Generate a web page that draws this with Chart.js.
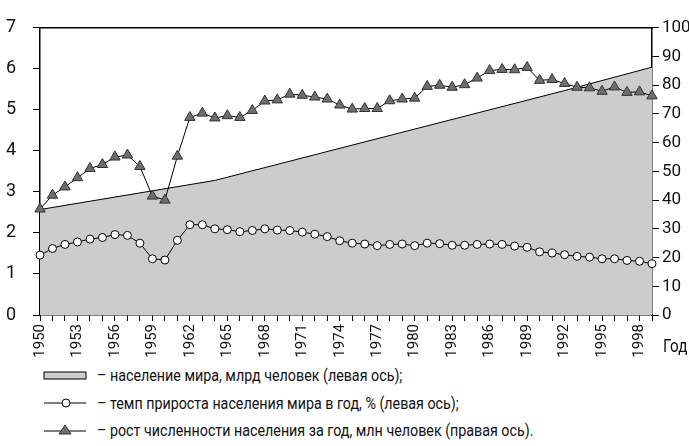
<!DOCTYPE html>
<html lang="ru">
<head>
    <meta charset="UTF-8">
    <title>Население мира</title>
    <style>
        body {
            margin: 0;
            background: #fff;
            font-family: Roboto, "Liberation Sans", sans-serif;
            color: #111;
        }
        #wrap {
            position: relative;
            width: 689px;
            height: 446px;
        }
        #box {
            position: absolute;
            left: 0;
            top: 0;
            width: 689px;
            height: 362px;
        }
        .row {
            position: absolute;
            left: 43px;
            height: 20px;
            display: flex;
            align-items: center;
            white-space: nowrap;
        }
        .row span {
            display: inline-block;
            margin-left: 8px;
            font-size: 17px;
            transform: scaleX(0.84);
            transform-origin: left center;
        }
        #god {
            position: absolute;
            left: 663px;
            top: 335px;
            font-size: 18px;
            transform: scaleX(0.85);
            transform-origin: left center;
        }
    </style>
    <script src="https://cdn.jsdelivr.net/npm/chart.js"></script>
</head>
<body>
<div id="wrap">
    <div id="box"><canvas id="chart"></canvas></div>
    <div id="god">Год</div>
    <div class="row" style="top:365px">
        <svg width="46" height="12"><rect x="1" y="3" width="42" height="7" fill="#cccccc" stroke="#000" stroke-width="1"/></svg>
        <span>– население мира, млрд человек (левая ось);</span>
    </div>
    <div class="row" style="top:393px">
        <svg width="46" height="12"><line x1="1" y1="6" x2="43" y2="6" stroke="#000" stroke-width="1"/><circle cx="23" cy="6" r="4" fill="#fff" stroke="#000" stroke-width="1"/></svg>
        <span>– темп прироста населения мира в год, % (левая ось);</span>
    </div>
    <div class="row" style="top:420px">
        <svg width="46" height="12"><line x1="1" y1="7" x2="43" y2="7" stroke="#000" stroke-width="1"/><polygon points="22,1 28,10 16,10" fill="#6e6e6e" stroke="#333" stroke-width="1"/></svg>
        <span>– рост численности населения за год, млн человек (правая ось).</span>
    </div>
</div>
<script>
    const years = [1950, 1951, 1952, 1953, 1954, 1955, 1956, 1957, 1958, 1959,
        1960, 1961, 1962, 1963, 1964, 1965, 1966, 1967, 1968, 1969,
        1970, 1971, 1972, 1973, 1974, 1975, 1976, 1977, 1978, 1979,
        1980, 1981, 1982, 1983, 1984, 1985, 1986, 1987, 1988, 1989,
        1990, 1991, 1992, 1993, 1994, 1995, 1996, 1997, 1998, 1999];

    // население мира, млрд (известно только в узловых годах)
    const population = [2.57, null, null, null, null, null, null, null, null, null,
        null, null, null, null, 3.28, null, null, null, null, null,
        null, null, null, null, null, null, null, null, null, null,
        null, null, null, null, null, null, null, null, null, null,
        null, null, 5.47, null, null, null, null, null, null, 6.04];

    // темп прироста, %
    const growthRate = [1.46, 1.62, 1.72, 1.78, 1.85, 1.89, 1.96, 1.94, 1.75, 1.37,
        1.34, 1.82, 2.20, 2.20, 2.10, 2.08, 2.03, 2.06, 2.10, 2.07,
        2.06, 2.02, 1.97, 1.91, 1.81, 1.75, 1.73, 1.69, 1.72, 1.73,
        1.69, 1.75, 1.74, 1.70, 1.70, 1.72, 1.73, 1.72, 1.68, 1.65,
        1.54, 1.51, 1.47, 1.43, 1.41, 1.37, 1.37, 1.33, 1.31, 1.25];

    // прирост численности, млн человек
    const growthMln = [36.9, 41.7, 44.6, 47.8, 51.0, 52.4, 55.0, 55.7, 51.7, 41.4,
        40.0, 55.3, 68.8, 70.3, 68.6, 69.4, 68.8, 71.2, 74.5, 74.9,
        76.9, 76.5, 75.9, 75.2, 73.1, 71.7, 71.9, 71.9, 74.6, 75.2,
        75.5, 79.6, 80.0, 79.3, 80.2, 82.5, 85.1, 85.5, 85.4, 86.2,
        81.7, 82.0, 80.6, 79.3, 79.1, 77.9, 79.4, 77.5, 77.7, 76.3];

    const tickFont = { family: 'Roboto, "Liberation Sans", sans-serif', size: 18 };

    new Chart(document.getElementById('chart'), {
        type: 'line',
        data: {
            labels: years,
            datasets: [
                {
                    label: 'население мира, млрд человек',
                    data: population,
                    yAxisID: 'y',
                    fill: 'origin',
                    spanGaps: true,
                    backgroundColor: '#cccccc',
                    borderColor: '#000',
                    borderWidth: 1,
                    pointRadius: 0,
                    tension: 0,
                    order: 3
                },
                {
                    label: 'темп прироста населения мира в год, %',
                    data: growthRate,
                    yAxisID: 'y',
                    borderColor: '#000',
                    borderWidth: 1,
                    pointStyle: 'circle',
                    pointRadius: 4,
                    pointBackgroundColor: '#fff',
                    pointBorderColor: '#000',
                    pointBorderWidth: 1,
                    clip: false,
                    order: 2
                },
                {
                    label: 'рост численности населения за год, млн человек',
                    data: growthMln,
                    yAxisID: 'y1',
                    borderColor: '#000',
                    borderWidth: 1,
                    pointStyle: 'triangle',
                    pointRadius: 6,
                    pointBackgroundColor: '#6e6e6e',
                    pointBorderColor: '#333',
                    pointBorderWidth: 1,
                    clip: false,
                    order: 1
                }
            ]
        },
        options: {
            responsive: true,
            maintainAspectRatio: false,
            animation: false,
            layout: { padding: { top: 23, left: 0, right: 0, bottom: 0 } },
            plugins: {
                legend: { display: false },
                tooltip: { enabled: false }
            },
            scales: {
                x: {
                    position: 'bottom',
                    offset: false,
                    grid: { display: true, drawOnChartArea: false, tickLength: 6, color: '#000', lineWidth: 1 },
                    border: { display: true, color: '#000', width: 1.5 },
                    ticks: {
                        autoSkip: false,
                        minRotation: 90,
                        maxRotation: 90,
                        padding: 3,
                        color: '#111',
                        font: { family: tickFont.family, size: 15 },
                        callback: function (v, i) { return i % 3 === 0 ? years[i] : ''; }
                    },
                    afterFit: s => { s.height = 47; }
                },
                xt: {
                    position: 'top',
                    grid: { display: false },
                    border: { display: true, color: '#000', width: 1.5 },
                    ticks: { display: false },
                    afterFit: s => { s.height = 0; }
                },
                y: {
                    position: 'left',
                    min: 0,
                    max: 7,
                    ticks: { stepSize: 1, padding: 17, color: '#111', font: tickFont },
                    grid: { display: true, drawOnChartArea: false, tickLength: 7, color: '#000' },
                    border: { display: true, color: '#000', width: 1.5 },
                    afterFit: s => { s.width = 40; }
                },
                y1: {
                    position: 'right',
                    min: 0,
                    max: 100,
                    ticks: { stepSize: 10, padding: 3, color: '#111', font: { family: tickFont.family, size: 17 } },
                    grid: { display: true, drawOnChartArea: false, tickLength: 7, color: '#000' },
                    border: { display: true, color: '#000', width: 1.5 },
                    afterFit: s => { s.width = 37; }
                }
            }
        }
    });
</script>
</body>
</html>
